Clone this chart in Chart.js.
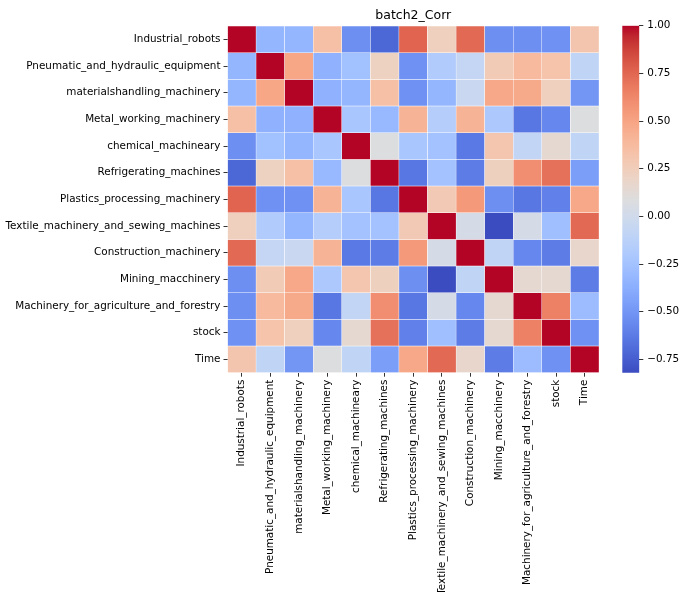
<!DOCTYPE html>
<html>
<head>
<meta charset="utf-8">
<script src="https://cdn.jsdelivr.net/npm/chart.js@4/dist/chart.umd.min.js"></script>
<style>
  body { margin: 0; background: #fff; }
  #wrap { position: relative; width: 682px; height: 592px; overflow: hidden; }
  #heat { position: absolute; left: 0; top: 0; }
  #cbar { position: absolute; left: 600px; top: 0; }
</style>
</head>
<body>
<div id="wrap">
  <canvas id="heat" width="682" height="592"></canvas>
  <canvas id="cbar" width="82" height="592"></canvas>
</div>
<script>
const labels = [
  'Industrial_robots', 'Pneumatic_and_hydraulic_equipment', 'materialshandling_machinery',
  'Metal_working_machinery', 'chemical_machineary', 'Refrigerating_machines',
  'Plastics_processing_machinery', 'Textile_machinery_and_sewing_machines', 'Construction_machinery',
  'Mining_macchinery', 'Machinery_for_agriculture_and_forestry', 'stock', 'Time'
]

// correlation matrix
const corr = [
  [ 1.00, -0.33, -0.33,  0.34, -0.53, -0.71,  0.76,  0.24,  0.74, -0.53, -0.53, -0.52,  0.31],
  [-0.33,  1.00,  0.49, -0.35, -0.26,  0.22, -0.52, -0.18, -0.07,  0.27,  0.38,  0.32, -0.09],
  [-0.33,  0.49,  1.00, -0.35, -0.33,  0.34, -0.52, -0.33, -0.04,  0.48,  0.47,  0.24, -0.50],
  [ 0.34, -0.35, -0.35,  1.00, -0.22, -0.31,  0.42, -0.16,  0.42, -0.20, -0.64, -0.57,  0.08],
  [-0.53, -0.26, -0.33, -0.22,  1.00,  0.08, -0.22, -0.25, -0.63,  0.30, -0.08,  0.15, -0.09],
  [-0.71,  0.22,  0.34, -0.31,  0.08,  1.00, -0.64, -0.25, -0.62,  0.23,  0.60,  0.71, -0.46],
  [ 0.76, -0.52, -0.52,  0.42, -0.22, -0.64,  1.00,  0.28,  0.55, -0.53, -0.64, -0.60,  0.48],
  [ 0.24, -0.18, -0.33, -0.16, -0.25, -0.25,  0.28,  1.00,  0.03, -0.82,  0.03, -0.27,  0.74],
  [ 0.74, -0.07, -0.04,  0.42, -0.63, -0.62,  0.55,  0.03,  1.00, -0.09, -0.57, -0.62,  0.17],
  [-0.53,  0.27,  0.48, -0.20,  0.30,  0.23, -0.53, -0.82, -0.09,  1.00,  0.15,  0.15, -0.62],
  [-0.53,  0.38,  0.47, -0.64, -0.08,  0.60, -0.64,  0.03, -0.57,  0.15,  1.00,  0.65, -0.29],
  [-0.52,  0.32,  0.24, -0.57,  0.15,  0.71, -0.60, -0.27, -0.62,  0.15,  0.65,  1.00, -0.52],
  [ 0.31, -0.09, -0.50,  0.08, -0.09, -0.46,  0.48,  0.74,  0.17, -0.62, -0.29, -0.52,  1.00]
]

const cbarTicks = [-0.75, -0.5, -0.25, 0, 0.25, 0.5, 0.75, 1.0]
const vmin = Math.min(...corr.flat())
const vmax = Math.max(...corr.flat())

// coolwarm (Moreland) control points
const cw = [
  [59,76,192],[68,90,204],[77,104,215],[87,117,225],[98,130,234],[108,142,241],[119,154,247],
  [130,165,251],[141,176,254],[152,185,255],[163,194,255],[174,201,253],[184,208,249],[194,213,244],
  [204,217,238],[213,219,230],[221,221,221],[229,216,209],[236,211,197],[241,204,184],[245,196,172],
  [247,187,159],[247,177,147],[247,166,134],[244,154,123],[241,141,112],[236,127,99],[229,112,89],
  [222,96,77],[213,80,66],[203,62,56],[192,40,47],[180,4,38]
]

function coolwarm(t) {
  t = Math.max(0, Math.min(1, t))
  const p = t * (cw.length - 1)
  const i = Math.min(Math.floor(p), cw.length - 2)
  const f = p - i
  const c = cw[i].map((a, k) => Math.round(a + (cw[i + 1][k] - a) * f))
  return 'rgb(' + c.join(',') + ')'
}
const colorFor = v => coolwarm((v - vmin) / (vmax - vmin))

const font = { family: 'DejaVu Sans', size: 10.4 }
Chart.defaults.color = '#000'

const titlePlugin = {
  id: 'heatTitle',
  afterDraw(chart) {
    const ctx = chart.ctx, a = chart.chartArea
    ctx.save()
    ctx.font = '12.5px "DejaVu Sans"'
    ctx.fillStyle = '#000'
    ctx.textAlign = 'center'
    ctx.textBaseline = 'alphabetic'
    ctx.fillText('batch2_Corr', (a.left + a.right) / 2, a.top - 7)
    ctx.restore()
  }
}

const heat = new Chart(document.getElementById('heat'), {
  type: 'bar',
  data: {
    labels: labels,
    datasets: corr.map((row, i) => ({
      data: row.map(() => [i, i + 1]),
      backgroundColor: row.map(colorFor),
      borderColor: '#fff',
      borderWidth: 0.5,
      borderSkipped: false,
      barPercentage: 1,
      categoryPercentage: 1,
      grouped: false
    }))
  },
  options: {
    responsive: false,
    animation: false,
    layout: { padding: { top: 26, right: 83, left: 0, bottom: 0 } },
    plugins: { legend: { display: false }, tooltip: { enabled: false }, title: { display: false } },
    scales: {
      x: {
        type: 'category',
        offset: true,
        border: { display: false },
        grid: { offset: false, drawOnChartArea: false, drawTicks: true, tickLength: 4, color: '#000', lineWidth: 0.8 },
        ticks: { font: font, color: '#000', minRotation: 90, maxRotation: 90, autoSkip: false, padding: 3 },
        afterFit(s) { s.height = 219.3 }
      },
      y: {
        type: 'linear',
        min: 0,
        max: labels.length,
        reverse: true,
        border: { display: false },
        grid: { drawOnChartArea: false, drawTicks: true, tickLength: 4, color: '#000', lineWidth: 0.8 },
        ticks: { font: font, color: '#000', autoSkip: false, padding: 3, callback: v => labels[Math.floor(v)] },
        afterBuildTicks(s) { s.ticks = labels.map((_, i) => ({ value: i + 0.5 })) },
        afterFit(s) { s.width = 227.5 }
      }
    }
  },
  plugins: [titlePlugin]
})

const cbar = new Chart(document.getElementById('cbar'), {
  type: 'bar',
  data: {
    labels: ['cbar'],
    datasets: [{
      data: [[vmin, vmax]],
      backgroundColor(c) {
        const a = c.chart.chartArea
        if (!a) return '#ddd'
        const g = c.chart.ctx.createLinearGradient(0, a.bottom, 0, a.top)
        cw.forEach((col, k) => g.addColorStop(k / (cw.length - 1), 'rgb(' + col.join(',') + ')'))
        return g
      },
      borderWidth: 0,
      barPercentage: 1,
      categoryPercentage: 1
    }]
  },
  options: {
    responsive: false,
    animation: false,
    layout: { padding: { top: 25.7, bottom: 219.3, left: 22.3, right: 0 } },
    plugins: { legend: { display: false }, tooltip: { enabled: false } },
    scales: {
      x: { display: false },
      y: {
        type: 'linear',
        position: 'right',
        min: vmin,
        max: vmax,
        border: { display: false },
        grid: { drawOnChartArea: false, drawTicks: true, tickLength: 4, color: '#000', lineWidth: 0.8 },
        ticks: { font: font, color: '#000', padding: 4, callback: v => v.toFixed(2).replace('-', '\u2212') },
        afterBuildTicks(s) { s.ticks = cbarTicks.map(v => ({ value: v })) },
        afterFit(s) { s.width = 42.7 }
      }
    }
  }
})
</script>
</body>
</html>
